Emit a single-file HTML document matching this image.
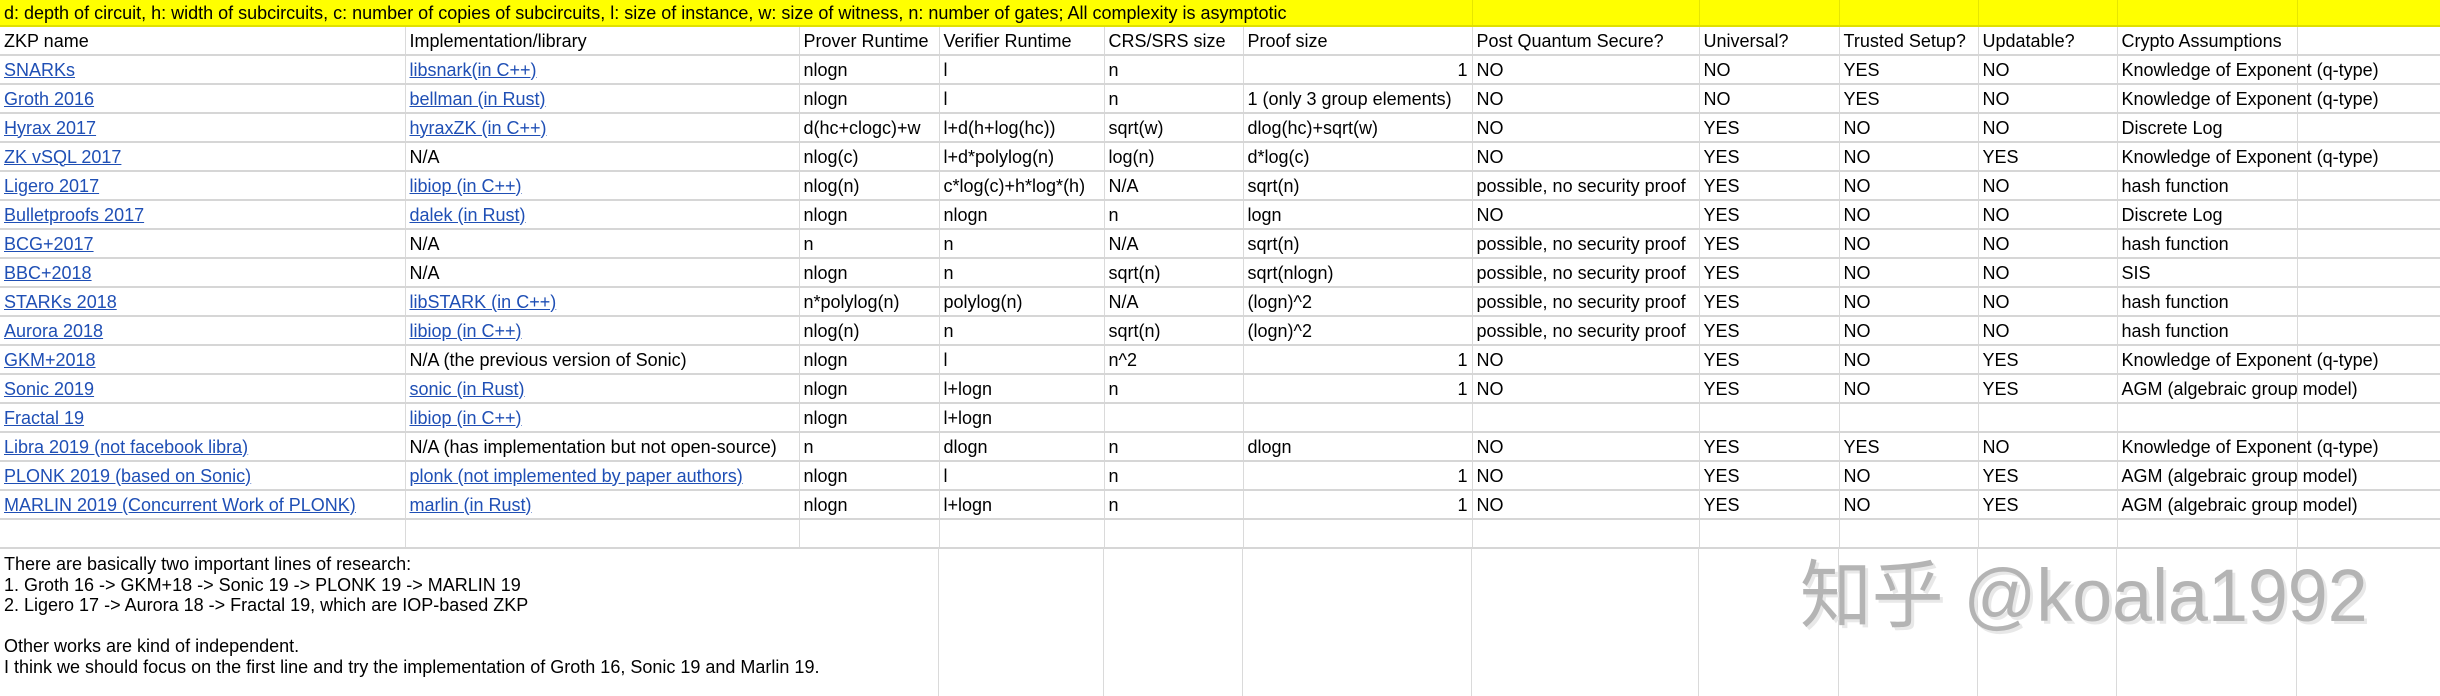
<!DOCTYPE html>
<html><head><meta charset="utf-8"><style>
*{margin:0;padding:0;box-sizing:border-box}
body{width:2440px;height:696px;overflow:hidden;background:#fff;font-family:"Liberation Sans",Arial,sans-serif;font-size:18px;color:#000;position:relative}
table{border-collapse:collapse;table-layout:fixed;width:2440px;position:absolute;left:0;top:0}
td{height:29px;border-right:1px solid #dadada;border-bottom:2px solid #d6d6d6;padding:0 4px;white-space:nowrap;overflow:visible;vertical-align:middle;line-height:20px}
tr.y td{height:26px;background:#ffff00;border-right:1px solid #e6e600;border-bottom:2px solid #e0e000}
a{color:#1f4fb5;text-decoration:underline}
.r{text-align:right}
.low{position:absolute;left:0;top:548px;width:2440px;height:148px}
.vl{position:absolute;top:0;height:148px;width:1px;background:#dadada}
.txt{position:absolute;left:4px;top:6px;line-height:20.6px;white-space:nowrap}
.wm{position:absolute;left:1800px;top:556px;font-family:"Liberation Sans","Noto Sans CJK SC",sans-serif;font-size:74px;color:#b4b4b4;text-shadow:3px 3px 0 #e8e8e8;white-space:nowrap;line-height:80px;transform:scaleX(0.97);transform-origin:0 0}
</style></head><body>
<table>
<colgroup><col style="width:405px"><col style="width:394px"><col style="width:140px"><col style="width:165px"><col style="width:139px"><col style="width:229px"><col style="width:227px"><col style="width:140px"><col style="width:139px"><col style="width:139px"><col style="width:180px"><col style="width:143px"></colgroup>
<tr class="y"><td colspan="6">d: depth of circuit, h: width of subcircuits, c: number of copies of subcircuits, l: size of instance, w: size of witness, n: number of gates; All complexity is asymptotic</td><td></td><td></td><td></td><td></td><td></td><td></td></tr>
<tr><td>ZKP name</td><td>Implementation/library</td><td>Prover Runtime</td><td>Verifier Runtime</td><td>CRS/SRS size</td><td>Proof size</td><td>Post Quantum Secure?</td><td>Universal?</td><td>Trusted Setup?</td><td>Updatable?</td><td>Crypto Assumptions</td><td></td></tr>
<tr><td><a>SNARKs </a></td><td><a>libsnark(in C++)</a></td><td>nlogn</td><td>l</td><td>n</td><td class="r">1</td><td>NO</td><td>NO</td><td>YES</td><td>NO</td><td>Knowledge of Exponent (q-type)</td><td></td></tr>
<tr><td><a>Groth 2016</a></td><td><a>bellman (in Rust)</a></td><td>nlogn</td><td>l</td><td>n</td><td>1 (only 3 group elements)</td><td>NO</td><td>NO</td><td>YES</td><td>NO</td><td>Knowledge of Exponent (q-type)</td><td></td></tr>
<tr><td><a>Hyrax 2017</a></td><td><a>hyraxZK (in C++)</a></td><td>d(hc+clogc)+w</td><td>l+d(h+log(hc))</td><td>sqrt(w)</td><td>dlog(hc)+sqrt(w)</td><td>NO</td><td>YES</td><td>NO</td><td>NO</td><td>Discrete Log</td><td></td></tr>
<tr><td><a>ZK vSQL 2017</a></td><td>N/A</td><td>nlog(c)</td><td>l+d*polylog(n)</td><td>log(n)</td><td>d*log(c)</td><td>NO</td><td>YES</td><td>NO</td><td>YES</td><td>Knowledge of Exponent (q-type)</td><td></td></tr>
<tr><td><a>Ligero 2017</a></td><td><a>libiop (in C++)</a></td><td>nlog(n)</td><td>c*log(c)+h*log*(h)</td><td>N/A</td><td>sqrt(n)</td><td>possible, no security proof</td><td>YES</td><td>NO</td><td>NO</td><td>hash function</td><td></td></tr>
<tr><td><a>Bulletproofs 2017</a></td><td><a>dalek (in Rust)</a></td><td>nlogn</td><td>nlogn</td><td>n</td><td>logn</td><td>NO</td><td>YES</td><td>NO</td><td>NO</td><td>Discrete Log</td><td></td></tr>
<tr><td><a>BCG+2017</a></td><td>N/A</td><td>n</td><td>n</td><td>N/A</td><td>sqrt(n)</td><td>possible, no security proof</td><td>YES</td><td>NO</td><td>NO</td><td>hash function</td><td></td></tr>
<tr><td><a>BBC+2018</a></td><td>N/A</td><td>nlogn</td><td>n</td><td>sqrt(n)</td><td>sqrt(nlogn)</td><td>possible, no security proof</td><td>YES</td><td>NO</td><td>NO</td><td>SIS</td><td></td></tr>
<tr><td><a>STARKs 2018</a></td><td><a>libSTARK (in C++)</a></td><td>n*polylog(n)</td><td>polylog(n)</td><td>N/A</td><td>(logn)^2</td><td>possible, no security proof</td><td>YES</td><td>NO</td><td>NO</td><td>hash function</td><td></td></tr>
<tr><td><a>Aurora 2018</a></td><td><a>libiop (in C++)</a></td><td>nlog(n)</td><td>n</td><td>sqrt(n)</td><td>(logn)^2</td><td>possible, no security proof</td><td>YES</td><td>NO</td><td>NO</td><td>hash function</td><td></td></tr>
<tr><td><a>GKM+2018</a></td><td>N/A (the previous version of Sonic)</td><td>nlogn</td><td>l</td><td>n^2</td><td class="r">1</td><td>NO</td><td>YES</td><td>NO</td><td>YES</td><td>Knowledge of Exponent (q-type)</td><td></td></tr>
<tr><td><a>Sonic 2019</a></td><td><a>sonic (in Rust)</a></td><td>nlogn</td><td>l+logn</td><td>n</td><td class="r">1</td><td>NO</td><td>YES</td><td>NO</td><td>YES</td><td>AGM (algebraic group model)</td><td></td></tr>
<tr><td><a>Fractal 19</a></td><td><a>libiop (in C++)</a></td><td>nlogn</td><td>l+logn</td><td></td><td></td><td></td><td></td><td></td><td></td><td></td><td></td></tr>
<tr><td><a>Libra 2019 (not facebook libra)</a></td><td>N/A (has implementation but not open-source)</td><td>n</td><td>dlogn</td><td>n</td><td>dlogn</td><td>NO</td><td>YES</td><td>YES</td><td>NO</td><td>Knowledge of Exponent (q-type)</td><td></td></tr>
<tr><td><a>PLONK 2019 (based on Sonic)</a></td><td><a>plonk (not implemented by paper authors)</a></td><td>nlogn</td><td>l</td><td>n</td><td class="r">1</td><td>NO</td><td>YES</td><td>NO</td><td>YES</td><td>AGM (algebraic group model)</td><td></td></tr>
<tr><td><a>MARLIN 2019 (Concurrent Work of PLONK)</a></td><td><a>marlin (in Rust)</a></td><td>nlogn</td><td>l+logn</td><td>n</td><td class="r">1</td><td>NO</td><td>YES</td><td>NO</td><td>YES</td><td>AGM (algebraic group model)</td><td></td></tr>
<tr><td></td><td></td><td></td><td></td><td></td><td></td><td></td><td></td><td></td><td></td><td></td><td></td></tr>
</table>
<div class="low">
<div class="vl" style="left:938px"></div><div class="vl" style="left:1103px"></div><div class="vl" style="left:1242px"></div><div class="vl" style="left:1471px"></div><div class="vl" style="left:1698px"></div><div class="vl" style="left:1838px"></div><div class="vl" style="left:1977px"></div><div class="vl" style="left:2116px"></div><div class="vl" style="left:2296px"></div>
<div class="txt">There are basically two important lines of research:<br>1. Groth 16 -&gt; GKM+18 -&gt; Sonic 19 -&gt; PLONK 19 -&gt; MARLIN 19<br>2. Ligero 17 -&gt; Aurora 18 -&gt; Fractal 19, which are IOP-based ZKP<br>&nbsp;<br>Other works are kind of independent.<br>I think we should focus on the first line and try the implementation of Groth 16, Sonic 19 and Marlin 19.</div>
</div>
<div class="wm">知乎 @koala1992</div>
</body></html>
